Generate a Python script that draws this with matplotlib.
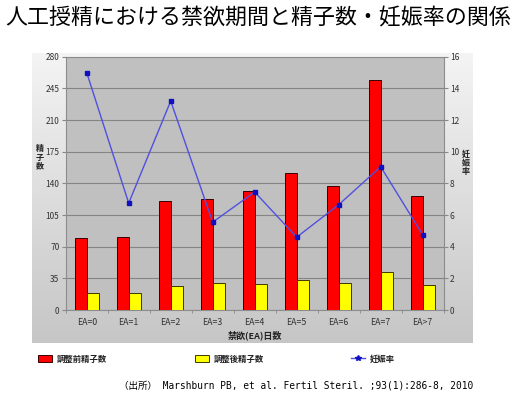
import matplotlib
matplotlib.use('Agg')
import matplotlib.pyplot as plt
import numpy as np
from matplotlib.lines import Line2D
from matplotlib.patches import Patch

plt.rcParams['font.family'] = ['Noto Sans CJK JP', 'DejaVu Sans']

# ---- data ----
categories = ['EA=0', 'EA=1', 'EA=2', 'EA=3', 'EA=4', 'EA=5', 'EA=6', 'EA=7', 'EA>7']
before_adj = [80, 81, 120, 123, 131, 151, 137, 254, 126]   # 調整前精子数
after_adj = [19, 18.5, 27, 30, 28.5, 33.5, 29.5, 42, 28]   # 調整後精子数
preg_rate = [15.0, 6.75, 13.2, 5.55, 7.45, 4.6, 6.65, 9.05, 4.75]  # 妊娠率

title = '人工授精における禁欲期間と精子数・妊娠率の関係'
source = '（出所） Marshburn PB, et al. Fertil Steril. ;93(1):286-8, 2010'

W, H = 520, 398
fig = plt.figure(figsize=(W / 100, H / 100), dpi=100)
fig.patch.set_facecolor('white')

def box(x0, y0, x1, y1):
    # pixel box (top-left origin) -> figure fraction
    return [x0 / W, 1 - y1 / H, (x1 - x0) / W, (y1 - y0) / H]

# gradient panel behind the chart
bg = fig.add_axes(box(32, 53, 473, 343))
grad = np.linspace(0, 1, 256).reshape(-1, 1)
bg.imshow(grad, aspect='auto', cmap=matplotlib.colors.LinearSegmentedColormap.from_list(
    'g', ['#f4f4f4', '#c6c6c6']), extent=[0, 1, 0, 1], origin='upper')
bg.axis('off')

ax = fig.add_axes(box(65.7, 56.7, 443.7, 310))
ax.set_facecolor('#c0c0c0')
x = np.arange(len(categories))
bw = 0.29
ax.bar(x - bw / 2, before_adj, bw, color='#ff0000', edgecolor='#3a0000', linewidth=0.7, zorder=3)
ax.bar(x + bw / 2, after_adj, bw, color='#ffff00', edgecolor='#3a3a00', linewidth=0.7, zorder=3)
ax.set_xlim(-0.5, len(categories) - 0.5)
ax.set_ylim(0, 280)
ax.set_yticks(np.arange(0, 281, 35))
ax.yaxis.grid(True, color='#858585', linewidth=0.8, zorder=0)
ax.set_axisbelow(True)
ax.set_xticks(x)
ax.set_xticklabels(categories)
ax.set_xticks(np.arange(-0.5, len(categories), 1), minor=True)
ax.tick_params(axis='x', which='major', length=0, pad=6, labelsize=6.3, colors='#333333')
ax.tick_params(axis='x', which='minor', length=2.5, color='#888888')
ax.tick_params(axis='y', length=3, pad=1.5, labelsize=6, colors='#333333', color='#888888')
for s in ax.spines.values():
    s.set_color('#8c8c8c')
    s.set_linewidth(0.8)
ax.set_xlabel('禁欲(EA)日数', fontsize=6.5, fontweight='bold', labelpad=2, color='#222222')

ax2 = ax.twinx()
ax2.plot(x, preg_rate, color='#5050e0', linewidth=1.0, marker='s', markersize=2.8,
         markerfacecolor='#1010c0', markeredgecolor='#1010c0', zorder=4)
ax2.set_ylim(0, 16)
ax2.set_yticks(np.arange(0, 17, 2))
ax2.tick_params(axis='y', length=3, pad=1.5, labelsize=6, colors='#333333', color='#888888')
for s in ax2.spines.values():
    s.set_visible(False)

# vertical axis titles (stacked characters)
fig.text(40 / W, 1 - 157 / H, '精\n子\n数', fontsize=5.8, fontweight='bold', ha='center',
         va='center', linespacing=0.95, color='#222222')
fig.text(466 / W, 1 - 163 / H, '妊\n娠\n率', fontsize=5.8, fontweight='bold', ha='center',
         va='center', linespacing=0.95, color='#222222')

# title
fig.text(5 / W, 1 - 18 / H, title, fontsize=15.8, ha='left', va='center', color='black')

# legends
items = [
    (Patch(facecolor='#ff0000', edgecolor='#3a0000', linewidth=0.7), '調整前精子数', 38),
    (Patch(facecolor='#ffff00', edgecolor='#3a3a00', linewidth=0.7), '調整後精子数', 195),
    (Line2D([], [], color='#5050e0', linewidth=1.0, marker='*', markersize=4,
            markerfacecolor='#1010c0', markeredgecolor='#1010c0'), '妊娠率', 351),
]
for h, lab, px in items:
    lg = fig.legend(handles=[h], labels=[lab], loc='center left',
                    bbox_to_anchor=(px / W, 1 - 359 / H), frameon=False,
                    fontsize=6, handlelength=1.7, handleheight=0.8, handletextpad=0.6,
                    borderpad=0, borderaxespad=0)
    for t in lg.get_texts():
        t.set_fontweight('bold')
        t.set_color('#222222')

# source note
fig.text(473 / W, 1 - 386 / H, source, fontsize=6.85, ha='right', va='center',
         family=['DejaVu Sans Mono', 'Noto Sans CJK JP'], color='black')

fig.savefig('out.png', dpi=100)
